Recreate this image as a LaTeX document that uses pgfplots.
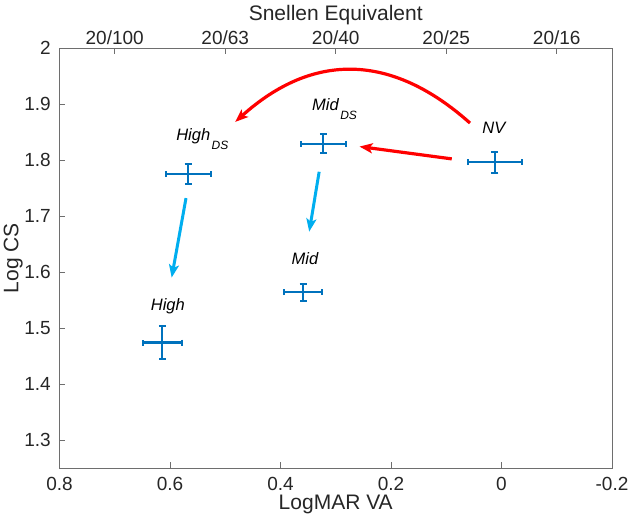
\documentclass[border=0pt]{standalone}
\usepackage{pgfplots}
\pgfplotsset{compat=1.18}
\usepackage{pgfplotstable}
\usepackage{fontspec}
\setmainfont{Liberation Sans}
\usetikzlibrary{arrows.meta}
\definecolor{mblue}{RGB}{0,114,189}
\definecolor{sky}{RGB}{0,174,239}
\definecolor{mred}{RGB}{255,0,0}
\definecolor{axgray}{RGB}{110,110,110}
\definecolor{tickcol}{RGB}{38,38,38}
\newcommand{\ticksize}{\fontsize{19bp}{22bp}\selectfont}
\newcommand{\labsize}{\fontsize{21bp}{24bp}\selectfont}
\newcommand{\ptsize}{\fontsize{16.5bp}{19bp}\selectfont}
\newcommand{\sub}[1]{\hspace{1.5bp}\raisebox{-8.5bp}{\fontsize{12bp}{14bp}\selectfont\itshape #1}}

\pgfplotstableread{
x y ex ey
0.012 1.796 0.049 0.019
0.3225 1.829 0.041 0.017
0.567 1.775 0.041 0.018
0.614 1.474 0.035 0.030
0.359 1.564 0.034 0.015
}\pts

\begin{document}
\begin{tikzpicture}
\useasboundingbox (-59.5bp,-50bp) rectangle (569.5bp,468bp);
\begin{axis}[
  scale only axis, width=552.5bp, height=420bp,
  x dir=reverse, xmin=-0.2, xmax=0.8, ymin=1.25, ymax=2,
  xtick={-0.2,0,0.2,0.4,0.6,0.8}, xticklabels={-0.2,0,0.2,0.4,0.6,0.8},
  ytick={1.3,1.4,1.5,1.6,1.7,1.8,1.9,2}, yticklabels={1.3,1.4,1.5,1.6,1.7,1.8,1.9,2},
  xtick pos=bottom, ytick pos=left, tick align=inside,
  major tick length=5.5bp,
  axis line style={draw=axgray, line width=0.9bp},
  tick style={draw=axgray, line width=0.9bp},
  ticklabel style={font=\ticksize, text=tickcol},
  xticklabel style={inner sep=0pt, anchor=north, yshift=-9.5bp},
  yticklabel style={inner sep=0pt, anchor=east, xshift=-8.5bp},
  xlabel={LogMAR VA}, ylabel={Log CS},
  label style={font=\labsize, text=tickcol},
  xlabel style={at={(axis description cs:0.5,-0.099)}, anchor=base, inner sep=0pt},
  ylabel style={at={(axis description cs:-0.0742,0.5)}, anchor=base, inner sep=0pt},
  clip=false,
]
\addplot[draw=none, mark=none,
  error bars/.cd, x dir=both, x explicit,
  error bar style={line width=2.2bp, color=mblue},
  error mark=|,
  error mark options={line width=2bp, color=mblue, mark size=3bp}]
  table[x=x, y=y, x error=ex] {\pts};
\addplot[draw=none, mark=none,
  error bars/.cd, y dir=both, y explicit,
  error bar style={line width=2.2bp, color=mblue},
  error mark=|,
  error mark options={line width=2bp, color=mblue, mark size=3.5bp}]
  table[x=x, y=y, y error=ey] {\pts};

\draw[sky, line width=3bp, -{Stealth[length=13bp, width=10bp, inset=3bp]}]
  (axis cs:0.571,1.732) -- (axis cs:0.597,1.590);
\draw[sky, line width=3bp, -{Stealth[length=13bp, width=10bp, inset=3bp]}]
  (axis cs:0.330,1.779) -- (axis cs:0.348,1.672);
\draw[mred, line width=3.2bp, -{Stealth[length=13bp, width=10bp, inset=3bp]}]
  (axis cs:0.090,1.802) -- (axis cs:0.257,1.824);
\draw[mred, line width=3.2bp, -{Stealth[length=13bp, width=10bp, inset=3bp]}]
  (axis cs:0.057,1.866) .. controls (axis cs:0.199,1.991) and (axis cs:0.341,1.993) .. (axis cs:0.482,1.868);

\node[anchor=base west, inner sep=0pt, font=\ptsize\itshape] at (axis cs:0.035,1.848) {NV};
\node[anchor=base west, inner sep=0pt, font=\ptsize\itshape] at (axis cs:0.343,1.888) {Mid\sub{DS}};
\node[anchor=base west, inner sep=0pt, font=\ptsize\itshape] at (axis cs:0.589,1.834) {High\sub{DS}};
\node[anchor=base west, inner sep=0pt, font=\ptsize\itshape] at (axis cs:0.635,1.532) {High};
\node[anchor=base west, inner sep=0pt, font=\ptsize\itshape] at (axis cs:0.380,1.614) {Mid};
\end{axis}
\begin{axis}[
  scale only axis, width=552.5bp, height=420bp,
  x dir=reverse, xmin=-0.2, xmax=0.8, ymin=1.25, ymax=2,
  axis x line*=top, hide y axis, tick align=inside,
  major tick length=5.5bp,
  axis line style={draw=axgray, line width=0.9bp, -},
  tick style={draw=axgray, line width=0.9bp},
  xtick={-0.1,0.1,0.3,0.5,0.7}, xticklabels={20/16,20/25,20/40,20/63,20/100},
  ticklabel style={font=\ticksize, text=tickcol},
  xticklabel style={inner sep=0pt, anchor=base, yshift=4bp},
  xlabel={Snellen Equivalent},
  xlabel style={font=\labsize, text=tickcol, at={(axis description cs:0.5,1.066)}, anchor=base, inner sep=0pt},
]
\addplot[draw=none] coordinates {(0,1.5)};
\end{axis}
\end{tikzpicture}
\end{document}
